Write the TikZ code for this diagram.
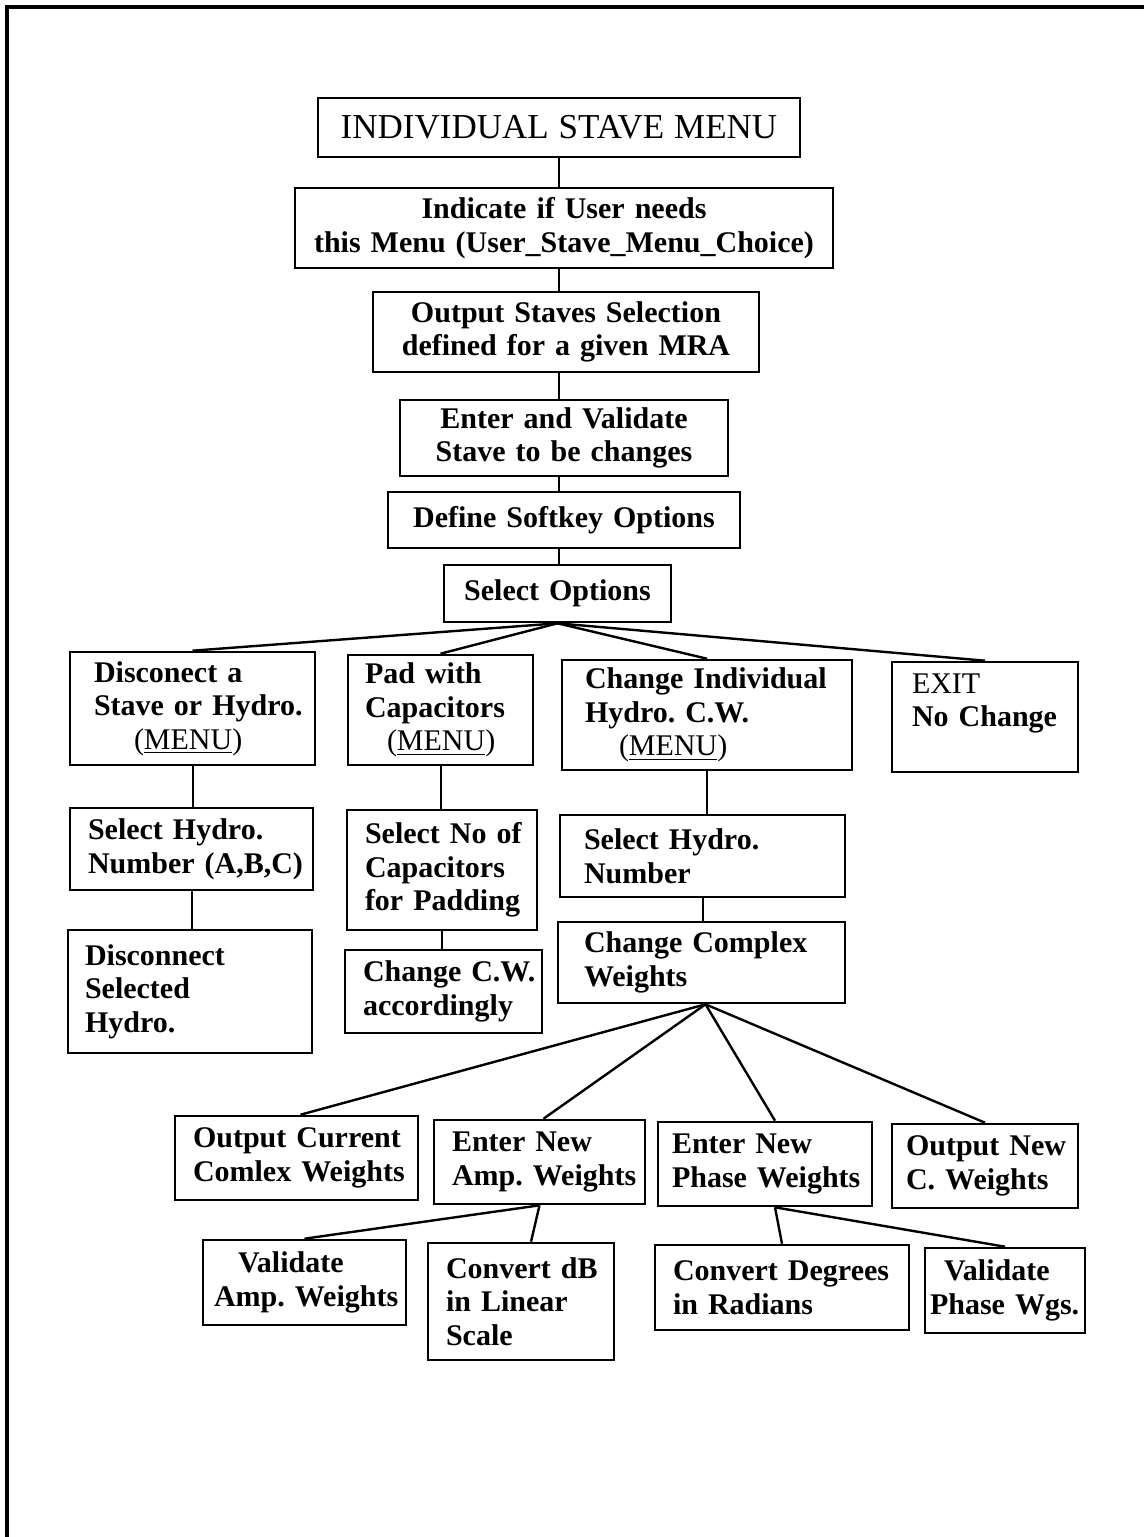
\documentclass[tikz,border=0pt]{standalone}
\usepackage{fontspec}
\setmainfont{Liberation Serif}
\frenchspacing
\newcommand\menutag{{\mdseries(\underline{MENU})}}
% #1 name, #2..#5 corners (x1,y1,x2,y2), #6 left padding, #7 alignment, #8 text
\newcommand\flowbox[8]{%
  \pgfmathsetmacro\fbtw{(#4-#2-2*#6)*0.5}%
  \pgfmathsetmacro\fbxs{#6*0.5}%
  \pgfmathsetmacro\fbh{(#5-#3)*0.5}%
  \node[bx, align=#7, text width=\fbtw pt, inner xsep=\fbxs pt,
        minimum height=\fbh pt] (#1) at ({(#2+#4)/2},{(#3+#5)/2}) {#8};%
}
\begin{document}
\begin{tikzpicture}[x=0.5pt,y=-0.5pt,
  bx/.style={draw, line width=1.3pt, inner ysep=0pt, anchor=center,
    font=\bfseries\fontsize{15}{16.8}\selectfont\frenchspacing},
  ln/.style={line width=1pt},
  fan/.style={line width=1.2pt}]
\useasboundingbox (0,0) rectangle (1144,1537);
\draw[line width=1.6pt] (7,1537) -- (7,7) -- (1144,7);

% main chain
\flowbox{title}{318}{98}{800}{157}{6}{center}{\mdseries\fontsize{17.5}{20}\selectfont INDIVIDUAL STAVE MENU}
\flowbox{ind}{295}{188}{833}{268}{4}{center}{\mbox{Indicate if User needs}\\\mbox{this Menu (User\_Stave\_Menu\_Choice)}}
\flowbox{outs}{373}{292}{759}{372}{6}{center}{\mbox{Output Staves Selection}\\\mbox{defined for a given MRA}}
\flowbox{val}{400}{400}{728}{476}{6}{center}{\mbox{Enter and Validate}\\\mbox{Stave to be changes}}
\flowbox{soft}{388}{492}{740}{548}{6}{center}{\mbox{Define Softkey Options}}
\flowbox{sel}{444}{565}{671}{622}{6}{center}{\mbox{Select Options}}

% options
\flowbox{disc}{70}{652}{315}{765}{24}{left}{\mbox{Disconect a}\\\mbox{Stave or Hydro.}\\\hspace*{20pt}\menutag}
\flowbox{pad}{348}{655}{533}{765}{17}{left}{\mbox{Pad with}\\\mbox{Capacitors}\\\hspace*{11pt}\menutag}
\flowbox{chg}{562}{660}{852}{770}{23}{left}{\mbox{Change Individual}\\\mbox{Hydro. C.W.}\\\hspace*{17pt}\menutag}
\flowbox{exit}{892}{662}{1078}{772}{20}{left}{{\mdseries EXIT}\\\mbox{No Change}\\~}

% sub-menus
\flowbox{selh}{70}{808}{313}{890}{18}{left}{\mbox{Select Hydro.}\\\mbox{Number (A,B,C)}}
\flowbox{dsel}{68}{930}{312}{1053}{17}{left}{Disconnect\\Selected\\Hydro.}
\flowbox{selc}{347}{810}{537}{930}{18}{left}{\mbox{Select No of}\\Capacitors\\\mbox{for Padding}}
\flowbox{chcw}{345}{950}{542}{1033}{18}{left}{\mbox{Change C.W.}\\accordingly}
\flowbox{selh2}{560}{815}{845}{897}{24}{left}{\mbox{Select Hydro.}\\Number}
\flowbox{ccw}{558}{922}{845}{1003}{26}{left}{\mbox{Change Complex}\\Weights}

% weights
\flowbox{outc}{175}{1116}{418}{1200}{18}{left}{\mbox{Output Current}\\\mbox{Comlex Weights}}
\flowbox{amp}{434}{1120}{645}{1204}{18}{left}{\mbox{Enter New}\\\mbox{Amp. Weights}}
\flowbox{pha}{658}{1122}{872}{1206}{14}{left}{\mbox{Enter New}\\\mbox{Phase Weights}}
\flowbox{outn}{892}{1124}{1078}{1208}{14}{left}{\mbox{Output New}\\\mbox{C. Weights}}
\flowbox{vamp}{203}{1240}{406}{1325}{11}{left}{\hspace*{12pt}Validate\\\mbox{Amp. Weights}}
\flowbox{cdb}{428}{1243}{614}{1360}{18}{left}{\mbox{Convert dB}\\\mbox{in Linear}\\Scale}
\flowbox{cdeg}{655}{1245}{909}{1330}{18}{left}{\mbox{Convert Degrees}\\\mbox{in Radians}}
\flowbox{vph}{925}{1248}{1085}{1333}{5}{left}{\hspace*{7pt}Validate\\\mbox{Phase Wgs.}}

% connectors of the main chain
\draw[ln] (title.south) -- (title.south |- ind.north);
\draw[ln] (title.south |- ind.south) -- (title.south |- outs.north);
\draw[ln] (title.south |- outs.south) -- (title.south |- val.north);
\draw[ln] (title.south |- val.south) -- (title.south |- soft.north);
\draw[ln] (title.south |- soft.south) -- (title.south |- sel.north);

% option fan
\draw[fan] (sel.south) -- (disc.north);
\draw[fan] (sel.south) -- (pad.north);
\draw[fan] (sel.south) -- (chg.north);
\draw[fan] (sel.south) -- (exit.north);

% sub-menu chains
\draw[ln] (disc.south) -- (disc.south |- selh.north);
\draw[ln] (selh.south) -- (selh.south |- dsel.north);
\draw[ln] (pad.south) -- (pad.south |- selc.north);
\draw[ln] (selc.south) -- (selc.south |- chcw.north);
\draw[ln] (chg.south) -- (chg.south |- selh2.north);
\draw[ln] (selh2.south) -- (selh2.south |- ccw.north);

% weights fan
\draw[fan] ([xshift=2pt]ccw.south) -- ([xshift=2pt]outc.north);
\draw[fan] ([xshift=2pt]ccw.south) -- ([xshift=2pt]amp.north);
\draw[fan] ([xshift=2pt]ccw.south) -- ([xshift=5pt]pha.north);
\draw[fan] ([xshift=2pt]ccw.south) -- (outn.north);

\draw[fan] (amp.south) -- (vamp.north);
\draw[fan] (amp.south) -- ([xshift=5pt]cdb.north);
\draw[fan] ([xshift=5pt]pha.south) -- (cdeg.north);
\draw[fan] ([xshift=5pt]pha.south) -- (vph.north);
\end{tikzpicture}
\end{document}
